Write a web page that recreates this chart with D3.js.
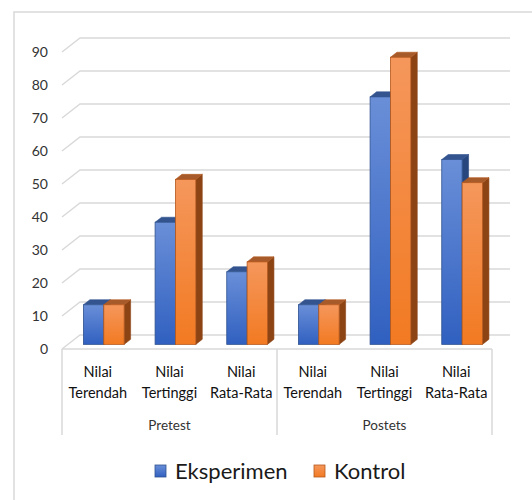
<!DOCTYPE html>
<html>
<head>
<meta charset="utf-8">
<script src="https://cdn.jsdelivr.net/npm/d3@7"></script>
<style>
  html, body { margin: 0; padding: 0; background: #fff; }
  svg { display: block; font-family: Lato, 'Open Sans', sans-serif; }
</style>
</head>
<body>
<div id="chart"></div>
<script>
const groups = ['Pretest', 'Postets'];
const categories = ['Nilai Terendah', 'Nilai Tertinggi', 'Nilai Rata-Rata'];
const seriesNames = ['Eksperimen', 'Kontrol'];
const eksperimenValues = [12, 37, 22, 12, 75, 56];
const kontrolValues = [12, 50, 25, 12, 87, 49];
const yTicks = [0, 10, 20, 30, 40, 50, 60, 70, 80, 90];

const WIDTH = 532;
const HEIGHT = 500;
const PLOT = { LEFT: 62, RIGHT: 492, ZERO: 349, TOP: 52 };
const DEPTH = { X: 18, Y: -14 };
const BAR_FRONT = 0.33;
const BAR_BACK = 0.69;
const GRID_COLOR = '#d9d9d9';

const COLORS = {
  Eksperimen: { light: '#6a8fd8', dark: '#3060c0', top: '#34548f', side: '#27467e', edge: '#2f528f' },
  Kontrol: { light: '#f5975c', dark: '#f27a22', top: '#a85b2a', side: '#8d4415', edge: '#b4571c' },
};

// one row per bar cell: group / category / value per series
const rows = groups.flatMap((group, gi) =>
  categories.map((category, ci) => ({
    key: `${group}|${category}`,
    group,
    category,
    Eksperimen: eksperimenValues[gi * categories.length + ci],
    Kontrol: kontrolValues[gi * categories.length + ci],
  })),
);

const svg = d3
  .select('#chart')
  .append('svg')
  .attr('width', WIDTH)
  .attr('height', HEIGHT);

const defs = svg.append('defs');
seriesNames.forEach((name) => {
  const grad = defs
    .append('linearGradient')
    .attr('id', `grad-${name}`)
    .attr('x1', 0)
    .attr('y1', 0)
    .attr('x2', 0)
    .attr('y2', 1);
  grad.append('stop').attr('offset', '0%').attr('stop-color', COLORS[name].light);
  grad.append('stop').attr('offset', '100%').attr('stop-color', COLORS[name].dark);
});

// outer chart frame
svg
  .append('rect')
  .attr('x', 14)
  .attr('y', 12)
  .attr('width', 540)
  .attr('height', 520)
  .attr('fill', 'none')
  .attr('stroke', GRID_COLOR)
  .attr('stroke-width', 1.5);

const x0 = d3
  .scaleBand()
  .domain(rows.map((d) => d.key))
  .range([PLOT.LEFT, PLOT.RIGHT])
  .padding(0);

const x1 = d3
  .scaleBand()
  .domain(seriesNames)
  .range([0, x0.bandwidth()])
  .paddingInner(0)
  .paddingOuter(0.76);

const y = d3.scaleLinear().domain([0, 90]).range([PLOT.ZERO, PLOT.TOP]);

// back wall gridlines + left wall diagonals
const grid = svg.append('g').attr('class', 'grid');
yTicks.forEach((t) => {
  grid
    .append('polyline')
    .attr(
      'points',
      [
        [PLOT.LEFT, y(t)],
        [PLOT.LEFT + DEPTH.X, y(t) + DEPTH.Y],
        [PLOT.RIGHT + DEPTH.X, y(t) + DEPTH.Y],
      ].join(' '),
    )
    .attr('fill', 'none')
    .attr('stroke', GRID_COLOR)
    .attr('stroke-width', 1.5);
});

// floor front edge
grid
  .append('line')
  .attr('x1', PLOT.LEFT)
  .attr('x2', PLOT.RIGHT)
  .attr('y1', PLOT.ZERO)
  .attr('y2', PLOT.ZERO)
  .attr('stroke', GRID_COLOR)
  .attr('stroke-width', 1.5);

// y axis labels
svg
  .append('g')
  .attr('transform', `translate(${PLOT.LEFT}, 0)`)
  .call(d3.axisLeft(y).tickValues(yTicks).tickSize(0).tickPadding(14))
  .call((g) => g.select('.domain').remove())
  .selectAll('text')
  .attr('fill', '#333')
  .style('font-size', '14px')
  .style('font-family', 'Lato, sans-serif');

// bars
const barFrontDx = DEPTH.X * BAR_FRONT;
const barFrontDy = DEPTH.Y * BAR_FRONT;
const barDx = DEPTH.X * (BAR_BACK - BAR_FRONT);
const barDy = DEPTH.Y * (BAR_BACK - BAR_FRONT);

const bars = svg.append('g').attr('class', 'bars');
rows.forEach((row) => {
  seriesNames.forEach((name) => {
    const left = x0(row.key) + x1(name) + barFrontDx;
    const right = left + x1.bandwidth();
    const bottom = y(0) + barFrontDy;
    const top = y(row[name]) + barFrontDy;
    const c = COLORS[name];
    const g = bars.append('g');

    g.append('polygon')
      .attr(
        'points',
        [
          [right, top],
          [right + barDx, top + barDy],
          [right + barDx, bottom + barDy],
          [right, bottom],
        ].join(' '),
      )
      .attr('fill', c.side)
      .attr('stroke', c.side)
      .attr('stroke-width', 0.6);

    g.append('polygon')
      .attr(
        'points',
        [
          [left, top],
          [left + barDx, top + barDy],
          [right + barDx, top + barDy],
          [right, top],
        ].join(' '),
      )
      .attr('fill', c.top)
      .attr('stroke', c.edge)
      .attr('stroke-width', 0.6);

    g.append('rect')
      .attr('x', left)
      .attr('y', top)
      .attr('width', right - left)
      .attr('height', bottom - top)
      .attr('fill', `url(#grad-${name})`)
      .attr('stroke', c.edge)
      .attr('stroke-width', 0.8);
  });
});

// category axis: two levels
const axis = svg.append('g').attr('class', 'category-axis');
const groupEdges = [PLOT.LEFT, x0(`${groups[1]}|${categories[0]}`), PLOT.RIGHT];
groupEdges.forEach((gx) => {
  axis
    .append('line')
    .attr('x1', gx)
    .attr('x2', gx)
    .attr('y1', PLOT.ZERO)
    .attr('y2', 435)
    .attr('stroke', GRID_COLOR)
    .attr('stroke-width', 1.5);
});

rows.forEach((row) => {
  const cx = x0(row.key) + x0.bandwidth() / 2;
  const [first, ...rest] = row.category.split(' ');
  const text = axis
    .append('text')
    .attr('x', cx)
    .attr('y', 377)
    .attr('text-anchor', 'middle')
    .attr('fill', '#111')
    .style('font-size', '14.5px');
  text.append('tspan').attr('x', cx).text(first);
  text.append('tspan').attr('x', cx).attr('dy', 21).text(rest.join(' '));
});

groups.forEach((group) => {
  const keys = rows.filter((r) => r.group === group).map((r) => r.key);
  const gx = (x0(keys[0]) + x0(keys[keys.length - 1]) + x0.bandwidth()) / 2;
  axis
    .append('text')
    .attr('x', gx)
    .attr('y', 430)
    .attr('text-anchor', 'middle')
    .attr('fill', '#333')
    .style('font-size', '13.5px')
    .text(group);
});

// legend
const legendItems = [
  { name: 'Eksperimen', x: 155 },
  { name: 'Kontrol', x: 314 },
];
const legend = svg.append('g').attr('class', 'legend');
legendItems.forEach(({ name, x }) => {
  legend
    .append('rect')
    .attr('x', x)
    .attr('y', 465)
    .attr('width', 11)
    .attr('height', 12)
    .attr('fill', `url(#grad-${name})`)
    .attr('stroke', COLORS[name].edge)
    .attr('stroke-width', 0.8);
  legend
    .append('text')
    .attr('x', x + 20)
    .attr('y', 479)
    .attr('fill', '#1a1a1a')
    .style('font-size', '22px')
    .text(name);
});
</script>
</body>
</html>
